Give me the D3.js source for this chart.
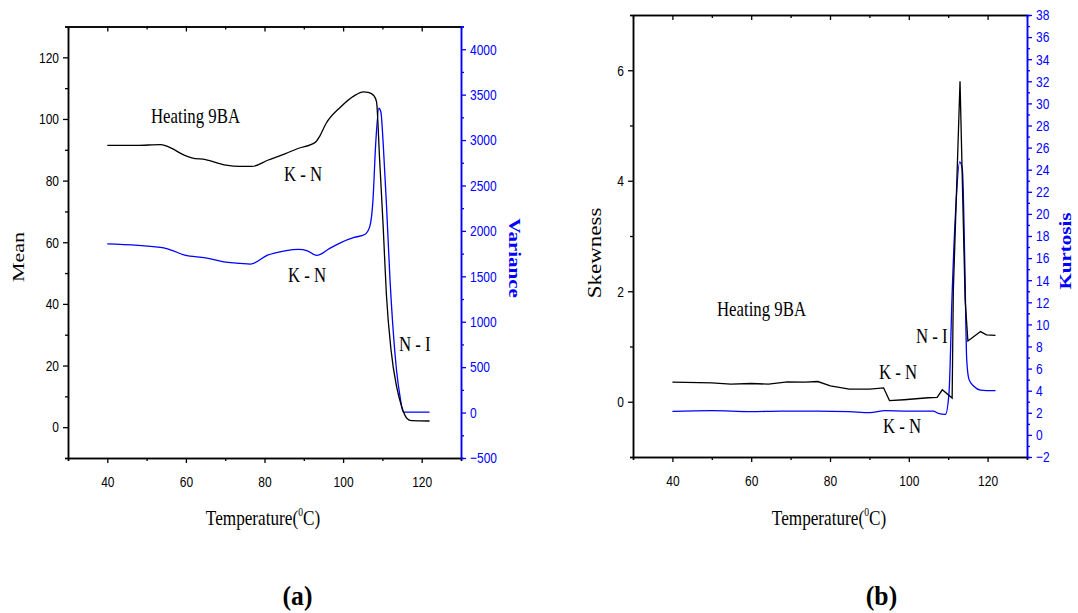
<!DOCTYPE html>
<html>
<head>
<meta charset="utf-8">
<script src="https://cdn.jsdelivr.net/npm/d3@7"></script>
<style>
  body { margin: 0; background: #fff; }
  svg { display: block; }
</style>
</head>
<body>
<svg id="chart" width="1078" height="613"></svg>
<script>
// (a) mean / variance vs temperature
const meanTemp = [40, 47.4, 53.5, 55.3, 59.7, 61.5, 65, 70.2, 73.8, 76.8, 80.8, 85.2, 88.7, 92.9, 94, 95.7, 99.3, 102.8, 105.2, 106.4, 107.8, 108.5, 109.3, 110.2, 111, 112.2, 113.6, 114.9, 116.2, 117.4, 122]
const meanVals = [91.4, 91.4, 91.7, 91.1, 88.2, 87.4, 86.8, 85.0, 84.6, 84.6, 86.6, 88.7, 90.5, 92.4, 94.3, 98.6, 103.8, 107.5, 108.8, 108.6, 107.6, 105.6, 86.7, 65, 43.4, 25, 13.2, 6.7, 2.9, 2.1, 2.0]

const varTemp = [40, 53.5, 55.3, 59.7, 65, 70.2, 73.8, 76.4, 80.8, 85.2, 88.7, 90.9, 93.3, 96.6, 99.3, 102.8, 105.5, 106.8, 107.6, 108.3, 109.1, 109.6, 110.2, 111.1, 111.9, 112.8, 113.6, 114.5, 115.3, 122]
const varVals = [1858, 1818, 1803, 1733, 1704, 1656, 1642, 1634, 1733, 1781, 1796, 1781, 1730, 1807, 1869, 1928, 1960, 2050, 2339, 2964, 3350, 3312, 2964, 2229, 1494, 870, 466, 172, 5, 5]

// (b) skewness / kurtosis vs temperature
const skewTemp = [40, 50, 54.8, 60, 64.4, 69.2, 73.6, 76.9, 80.1, 84.9, 90.1, 93.6, 95.1, 98.8, 104.9, 107.2, 108.5, 111, 111.3, 113, 114.3, 115, 118.2, 119.7, 122]
const skewVals = [0.354, 0.342, 0.318, 0.330, 0.318, 0.36, 0.354, 0.366, 0.288, 0.228, 0.228, 0.252, 0.02, 0.036, 0.072, 0.08, 0.217, 0.067, 2.0, 5.80, 1.84, 1.10, 1.27, 1.21, 1.20]

const kurtTemp = [40, 50, 60, 67.5, 76.9, 84.9, 90.1, 94, 98.8, 106.2, 107.5, 109.3, 110.2, 111, 111.9, 112.9, 113.6, 114.2, 114.7, 115.3, 116.5, 118.2, 122]
const kurtVals = [2.13, 2.19, 2.1, 2.16, 2.16, 2.1, 2.01, 2.19, 2.16, 2.16, 1.95, 1.86, 3.76, 12.8, 20.4, 24.7, 24.0, 15.8, 6.8, 5.0, 4.4, 4.06, 4.0]

const xMajor = [40, 60, 80, 100, 120]
const xMinor = [30, 50, 70, 90, 110, 130]
const meanMajor = [0, 20, 40, 60, 80, 100, 120]
const meanMinor = [-10, 10, 30, 50, 70, 90, 110, 130]
const varMajor = d3.range(-500, 4001, 500)
const varMinor = d3.range(-250, 4251, 500)
const skewMajor = [0, 2, 4, 6]
const skewMinor = [-1, 1, 3, 5, 7]
const kurtMajor = d3.range(-2, 39, 2)
const kurtMinor = d3.range(-1, 38, 2)

const BLUE = "#0000ff"
const SX = 0.8   // the scan is squeezed sideways
const svg = d3.select("#chart")

function txt(x, y, str, o = {}) {
    const t = svg.append("text")
        .attr("transform", `translate(${x},${y}) scale(${o.sx ?? SX},1)` + (o.rot ? ` rotate(${o.rot})` : ""))
        .attr("text-anchor", o.anchor ?? "start")
        .attr("font-family", o.family ?? "'Liberation Serif', 'Times New Roman', serif")
        .attr("font-size", o.size ?? 21)
        .attr("font-weight", o.bold ? "bold" : "normal")
        .attr("fill", o.color ?? "#000")
    t.text(str)
    return t
}

function styleAxis(g, color) {
    g.select(".domain").attr("stroke", color).attr("stroke-width", 1.5)
    g.selectAll(".tick line").attr("stroke", color).attr("stroke-width", 1.3)
    g.selectAll(".tick text").attr("fill", color)
        .attr("font-family", "'Liberation Sans', Arial, sans-serif")
        .attr("font-size", 15)
}

function panel(opt) {
    const x = d3.scaleLinear().domain([30, 130]).range(opt.xr)
    const yL = d3.scaleLinear().domain(opt.yLdom).range(opt.yr)
    const yR = d3.scaleLinear().domain(opt.yRdom).range(opt.yr)
    const [x0, x1] = opt.xr, [y1, y0] = opt.yr
    const fmt = d3.format("d")

    // minor ticks first
    svg.append("g").attr("transform", `translate(0,${y1})`)
        .call(d3.axisBottom(x).tickValues(xMinor).tickSize(3).tickFormat(""))
        .call(g => styleAxis(g, "#000"))
    svg.append("g").attr("transform", `translate(0,${y0})`)
        .call(d3.axisTop(x).tickValues(xMinor).tickSize(-3).tickSizeOuter(0).tickFormat(""))
        .call(g => styleAxis(g, "#000"))
    svg.append("g").attr("transform", `translate(0,${y0})`)
        .call(d3.axisTop(x).tickValues(xMajor).tickSize(-5).tickSizeOuter(0).tickFormat(""))
        .call(g => styleAxis(g, "#000"))
    svg.append("g").attr("transform", `translate(${x0},0)`)
        .call(d3.axisLeft(yL).tickValues(opt.lMinor).tickSize(3).tickFormat(""))
        .call(g => styleAxis(g, "#000"))
    svg.append("g").attr("transform", `translate(${x1},0)`)
        .call(d3.axisRight(yR).tickValues(opt.rMinor).tickSize(3).tickFormat(""))
        .call(g => styleAxis(g, BLUE))

    // labelled axes
    svg.append("g").attr("transform", `translate(0,${y1})`)
        .call(d3.axisBottom(x).tickValues(xMajor).tickSize(5).tickSizeOuter(0).tickFormat(fmt))
        .call(g => styleAxis(g, "#000"))
        .call(g => g.selectAll(".tick text").attr("y", 0).attr("dy", "0.71em")
            .attr("transform", `translate(0,18) scale(${SX},1)`))
    svg.append("g").attr("transform", `translate(${x0},0)`)
        .call(d3.axisLeft(yL).tickValues(opt.lMajor).tickSize(5).tickSizeOuter(0).tickFormat(fmt))
        .call(g => styleAxis(g, "#000"))
        .call(g => g.selectAll(".tick text").attr("x", 0)
            .attr("transform", `translate(-9,0) scale(${SX},1)`))
    svg.append("g").attr("transform", `translate(${x1},0)`)
        .call(d3.axisRight(yR).tickValues(opt.rMajor).tickSize(5).tickSizeOuter(0).tickFormat(fmt))
        .call(g => styleAxis(g, BLUE))
        .call(g => g.selectAll(".tick text").attr("x", 0)
            .attr("transform", `translate(9,0) scale(${SX},1)`))

    const lineL = d3.line().x(d => x(d[0])).y(d => yL(d[1])).curve(opt.curveL)
    const lineR = d3.line().x(d => x(d[0])).y(d => yR(d[1])).curve(opt.curveR)

    svg.append("path")
        .datum(d3.zip(opt.rT, opt.rV))
        .attr("d", lineR)
        .attr("fill", "none").attr("stroke", BLUE).attr("stroke-width", 1.3)
    svg.append("path")
        .datum(d3.zip(opt.lT, opt.lV))
        .attr("d", lineL)
        .attr("fill", "none").attr("stroke", "#000").attr("stroke-width", 1.3)
}

panel({
    xr: [68, 461], yr: [458, 26.5],
    yLdom: [-10, 130], yRdom: [-500, 4250],
    lMajor: meanMajor, lMinor: meanMinor, rMajor: varMajor, rMinor: varMinor,
    lT: meanTemp, lV: meanVals, rT: varTemp, rV: varVals,
    curveL: d3.curveMonotoneX, curveR: d3.curveMonotoneX
})

panel({
    xr: [633, 1027], yr: [457, 15],
    yLdom: [-1, 7], yRdom: [-2, 38],
    lMajor: skewMajor, lMinor: skewMinor, rMajor: kurtMajor, rMinor: kurtMinor,
    lT: skewTemp, lV: skewVals, rT: kurtTemp, rV: kurtVals,
    curveL: d3.curveLinear, curveR: d3.curveMonotoneX
})

// axis titles
txt(24, 257, "Mean", { anchor: "middle", size: 22, rot: -90 })
txt(509, 258, "Variance", { anchor: "middle", size: 21, bold: true, rot: 90, color: BLUE })
txt(601, 253, "Skewness", { anchor: "middle", size: 23, rot: -90 })
txt(1071, 251, "Kurtosis", { anchor: "middle", size: 21, bold: true, rot: -90, color: BLUE })

for (const cx of [263, 829]) {
    const t = txt(cx, 525, "Temperature(", { anchor: "middle", size: 21.5 })
    t.append("tspan").attr("font-size", 12).attr("dy", -9).text("0")
    t.append("tspan").attr("dy", 9).text("C)")
}

// annotations
txt(151, 123, "Heating 9BA")
txt(284, 181, "K - N")
txt(288, 282, "K - N")
txt(399, 351, "N - I")

txt(717, 316, "Heating 9BA")
txt(879, 379, "K - N")
txt(883, 433, "K - N")
txt(916, 343, "N - I")

txt(297.5, 605, "(a)", { anchor: "middle", size: 27, bold: true, sx: 0.95 })
txt(881.5, 605, "(b)", { anchor: "middle", size: 27, bold: true, sx: 0.95 })
</script>
</body>
</html>
